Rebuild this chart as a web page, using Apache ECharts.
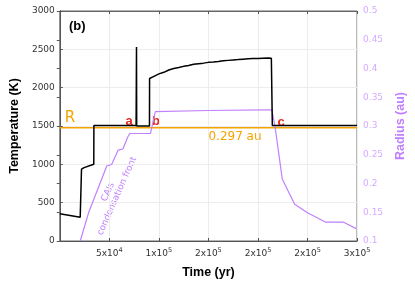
<!DOCTYPE html>
<html>
<head>
<meta charset="utf-8">
<script src="https://cdn.jsdelivr.net/npm/echarts@6/dist/echarts.min.js"></script>
<style>html,body{margin:0;padding:0;background:#fff}#c{width:415px;height:284px}</style>
</head>
<body>
<div id="c"></div>
<script>
// ---- data ----
const tempTime = [0, 20600, 21900, 24500, 34300, 34400, 45000, 60000, 77000, 77400, 77600, 78000, 90500, 90600, 92000, 95000, 100000, 105000, 110000, 115000, 120000, 125000, 130000, 135000, 140000, 145000, 150000, 155000, 160000, 165000, 170000, 175000, 180000, 185000, 190000, 195000, 200000, 205000, 210000, 213500, 214500, 230000, 260000, 300000];
const tempValues = [356, 309, 937, 957, 1000, 1506, 1508, 1506, 1506, 2530, 1500, 1498, 1500, 2120, 2112, 2148, 2180, 2200, 2230, 2250, 2262, 2278, 2290, 2305, 2313, 2320, 2330, 2335, 2342, 2350, 2356, 2362, 2366, 2372, 2377, 2380, 2382, 2384, 2386, 2384, 1505, 1505, 1505, 1505];
const radTime = [20600, 29400, 47400, 52300, 58800, 63700, 68600, 70600, 91500, 96400, 150000, 208800, 214000, 217300, 224500, 237000, 250000, 268000, 286000, 299000];
const radValues = [0.1, 0.151, 0.2305, 0.233, 0.258, 0.260, 0.281, 0.287, 0.287, 0.325, 0.327, 0.328, 0.328, 0.298, 0.208, 0.164, 0.149, 0.133, 0.133, 0.1215];
const refRadius = 0.297;
const xTickLabels = ['', '5x10{s|4}', '1x10{s|5}', '2x10{s|5}', '2x10{s|5}', '2x10{s|5}', '3x10{s|5}'];
const leftTicks = ['0', '500', '1000', '1500', '2000', '2500', '3000'];
const rightTicks = ['0.1', '0.15', '0.2', '0.25', '0.3', '0.35', '0.4', '0.45', '0.5'];

const PURPLE = '#c080ff';
const ORANGE = '#f5a300';
const RED = '#e8261a';
const FONT = 'DejaVu Sans';
const BFONT = 'Liberation Sans';

const chart = echarts.init(document.getElementById('c'), null, {renderer: 'canvas'});
const zip = (a, b) => a.map((v, i) => [v, b[i]]);

const option = {
  animation: false,
  backgroundColor: '#fff',
  grid: {left: 55, right: 54, top: 11, bottom: 37, show: true, borderColor: '#666', borderWidth: 1},
  xAxis: [{
    type: 'value', min: 0, max: 300000, interval: 50000,
    name: 'Time (yr)', nameLocation: 'middle', nameGap: 25,
    nameTextStyle: {fontFamily: BFONT, fontWeight: 'bold', fontSize: 12.5, color: '#000'},
    axisLine: {lineStyle: {color: '#555', width: 1}},
    axisTick: {inside: true, length: 3, lineStyle: {color: '#555'}},
    splitLine: {show: true, lineStyle: {color: '#ececec', width: 1}},
    axisLabel: {
      fontFamily: FONT, fontSize: 9, color: '#333', margin: 6,
      formatter: v => xTickLabels[Math.round(v / 50000)] || '',
      rich: {s: {fontSize: 6.5, verticalAlign: 'top', padding: [0, 0, 6, 0], fontFamily: FONT, color: '#333'}}
    }
  }, {
    type: 'value', min: 0, max: 300000, interval: 50000, position: 'top',
    axisLine: {show: true, lineStyle: {color: '#666'}},
    axisTick: {inside: true, length: 3, lineStyle: {color: '#555'}},
    axisLabel: {show: false}, splitLine: {show: false}
  }],
  yAxis: [{
    type: 'value', min: 0, max: 3000, interval: 500,
    name: 'Temperature (K)', nameLocation: 'middle', nameGap: 36,
    nameTextStyle: {fontFamily: BFONT, fontWeight: 'bold', fontSize: 12.5, color: '#000'},
    axisLine: {show: true, lineStyle: {color: '#555'}},
    axisTick: {show: true, inside: true, length: 3, lineStyle: {color: '#555'}},
    splitLine: {show: true, lineStyle: {color: '#ececec'}},
    axisLabel: {fontFamily: FONT, fontSize: 9, color: '#333', margin: 5,
      formatter: v => leftTicks[Math.round(v / 500)]}
  }, {
    type: 'value', min: 0.1, max: 0.5, interval: 0.05, position: 'right',
    name: 'Radius (au)', nameLocation: 'middle', nameGap: 32,
    nameTextStyle: {fontFamily: BFONT, fontWeight: 'bold', fontSize: 12.5, color: PURPLE},
    axisLine: {show: true, lineStyle: {color: '#555'}},
    axisTick: {show: true, inside: true, length: 3, lineStyle: {color: '#555'}},
    splitLine: {show: false},
    axisLabel: {fontFamily: FONT, fontSize: 9, color: '#d4aaff', margin: 6,
      formatter: v => rightTicks[Math.round((v - 0.1) / 0.05)]}
  }],
  series: [{
    type: 'line', name: 'R', xAxisIndex: 0, yAxisIndex: 1,
    data: [[0, refRadius], [300000, refRadius]],
    symbol: 'none', lineStyle: {color: ORANGE, width: 1.5}, z: 2
  }, {
    type: 'line', name: 'radius', xAxisIndex: 0, yAxisIndex: 1,
    data: zip(radTime, radValues),
    symbol: 'none', lineStyle: {color: PURPLE, width: 1.2}, z: 3
  }, {
    type: 'line', name: 'temperature', xAxisIndex: 0, yAxisIndex: 0,
    data: zip(tempTime, tempValues),
    symbol: 'none', lineStyle: {color: '#000', width: 1.5}, z: 4
  }],
  graphic: [
    {type: 'text', left: 69, top: 20, style: {text: '(b)', font: 'bold 13px "Liberation Sans"', fill: '#000'}},
    {type: 'text', x: 70, y: 118, style: {text: 'R', font: '15px "DejaVu Sans"', fill: ORANGE, align: 'center', verticalAlign: 'middle'}},
    {type: 'text', x: 129, y: 121, style: {text: 'a', font: 'bold 13px "Liberation Sans"', fill: RED, align: 'center', verticalAlign: 'middle'}},
    {type: 'text', x: 156, y: 121, style: {text: 'b', font: 'bold 13px "Liberation Sans"', fill: RED, align: 'center', verticalAlign: 'middle'}},
    {type: 'text', x: 281, y: 122, style: {text: 'c', font: 'bold 13px "Liberation Sans"', fill: RED, align: 'center', verticalAlign: 'middle'}},
    {type: 'text', x: 235, y: 137, style: {text: '0.297 au', font: '12px "DejaVu Sans"', fill: ORANGE, align: 'center', verticalAlign: 'middle'}},
    {type: 'text', x: 108, y: 192, rotation: 66 * Math.PI / 180, style: {text: 'CAIs', font: '9px "DejaVu Sans"', fill: PURPLE, align: 'center', verticalAlign: 'middle'}},
    {type: 'text', x: 117, y: 196, rotation: 66 * Math.PI / 180, style: {text: 'condensation front', font: '9px "DejaVu Sans"', fill: PURPLE, align: 'center', verticalAlign: 'middle'}}
  ]
};
chart.setOption(option);
</script>
</body>
</html>
